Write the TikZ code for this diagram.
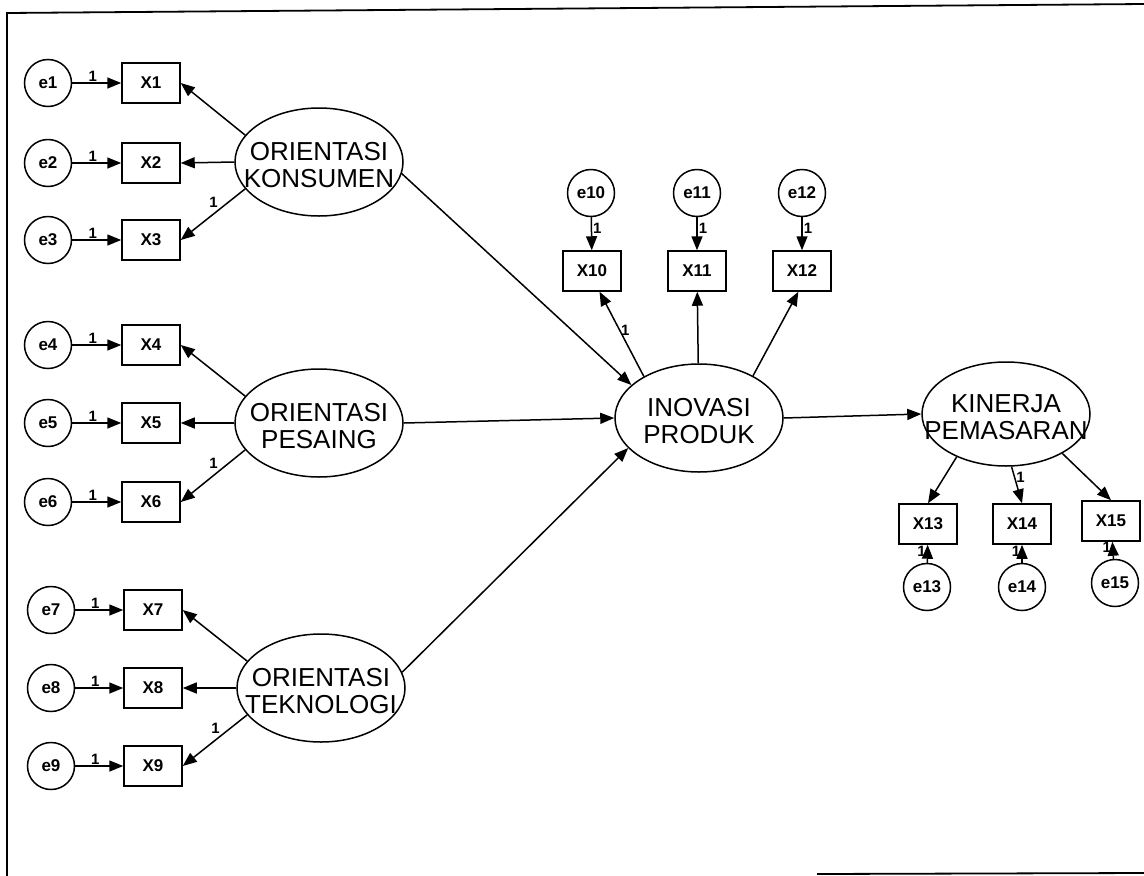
\documentclass[tikz,border=0pt]{standalone}
\usepackage{fontspec}
\setmainfont{Liberation Sans}
\usetikzlibrary{shapes.geometric, arrows.meta}
\begin{document}
\begin{tikzpicture}[x=1pt, y=-1pt,
  line width=1.5pt,
  err/.style={draw, circle, minimum size=47pt, inner sep=0pt, font=\bfseries\fontsize{17}{17}\selectfont},
  obs/.style={draw, rectangle, minimum width=58pt, minimum height=40pt, inner sep=0pt, font=\bfseries\fontsize{17}{17}\selectfont},
  lat/.style={draw, ellipse, minimum width=168pt, minimum height=108pt, inner sep=0pt},
  lattext/.style={align=center, inner sep=0pt, font=\fontsize{26}{27}\selectfont},
  arr/.style={-{Triangle[length=14pt,width=11pt]}},
  one/.style={font=\bfseries\fontsize{15}{15}\selectfont, inner sep=1pt}
]
\useasboundingbox (0,0) rectangle (1144,876);

% frame
\draw[line width=1.8pt] (1144,4) -- (7,13) -- (7,876);
\draw[line width=1.8pt] (817,874) -- (1144,873);

% exogenous latent variables
\node[lat] (k) at (319,162) {};
\node[lattext] (kt) at (319,165) {ORIENTASI\\KONSUMEN};
\node[lat] (p) at (319,423) {};
\node[lattext] (pt) at (319,426) {ORIENTASI\\PESAING};
\node[lat] (t) at (321,688) {};
\node[lattext] (tt) at (321,691) {ORIENTASI\\TEKNOLOGI};

% indicators and errors, left block
\foreach \i/\y in {1/83,2/163,3/240,4/345,5/423,6/502}{
  \node[err] (e\i) at (48,\y) {e\i};
  \node[obs] (x\i) at (151,\y) {X\i};
  \draw[arr] (e\i) -- node[one, above, pos=0.42]{1} (x\i);
}
\foreach \i/\y in {7/610,8/688,9/766}{
  \node[err] (e\i) at (51,\y) {e\i};
  \node[obs] (x\i) at (153,\y) {X\i};
  \draw[arr] (e\i) -- node[one, above, pos=0.42]{1} (x\i);
}

% loadings of the exogenous latents
\draw[arr] (k.160) -- (x1.east);
\draw[arr] (k.west) -- (x2.east);
\draw[arr] (k.200) -- node[one, above left, pos=0.4]{1} (x3.east);
\draw[arr] (p.160) -- (x4.east);
\draw[arr] (p.west) -- (x5.east);
\draw[arr] (p.200) -- node[one, above left, pos=0.4]{1} (x6.east);
\draw[arr] (t.160) -- (x7.east);
\draw[arr] (t.west) -- (x8.east);
\draw[arr] (t.200) -- node[one, above left, pos=0.4]{1} (x9.east);

% mediating latent
\node[lat] (inov) at (699,418) {};
\node[lattext] (inovt) at (699,421) {INOVASI\\PRODUK};

\node[err] (e10) at (591,193) {e10};
\node[err] (e11) at (697,193) {e11};
\node[err] (e12) at (802,193) {e12};
\node[obs] (x10) at (592,271) {X10};
\node[obs] (x11) at (697,271) {X11};
\node[obs] (x12) at (802,271) {X12};
\draw[arr] (e10) -- node[one, right, pos=0.35]{1} (x10);
\draw[arr] (e11) -- node[one, right, pos=0.35]{1} (x11);
\draw[arr] (e12) -- node[one, right, pos=0.35]{1} (x12);
\draw[arr] (inov.143) -- node[one, right, pos=0.55]{1} (x10.290);
\draw[arr] (inov) -- (x11);
\draw[arr] (inov.38) -- (x12.260);

% structural paths
\draw[arr] (k.352) -- (inov.154);
\draw[arr] (p.east) -- (inov.west);
\draw[arr] (t.11) -- (inov.203);

% outcome latent
\node[lat, minimum height=104pt] (kin) at (1006,414) {};
\node[lattext] (kint) at (1006,417) {KINERJA\\PEMASARAN};
\draw[arr] (inov.east) -- (kin.west);

\node[obs] (x13) at (928,524) {X13};
\node[obs] (x14) at (1022,524) {X14};
\node[obs] (x15) at (1111,521) {X15};
\node[err] (e13) at (927,587) {e13};
\node[err] (e14) at (1022,587) {e14};
\node[err] (e15) at (1115,583) {e15};
\draw[arr] (kin.221) -- (x13.north);
\draw[arr] (kin.276) -- node[one, right, pos=0.3]{1} (x14.north);
\draw[arr] (kin.325) -- (x15.north);
\draw[arr] (e13) -- node[one, left, pos=0.65]{1} (x13);
\draw[arr] (e14) -- node[one, left, pos=0.65]{1} (x14);
\draw[arr] (e15) -- node[one, left, pos=0.65]{1} (x15);
\end{tikzpicture}
\end{document}
